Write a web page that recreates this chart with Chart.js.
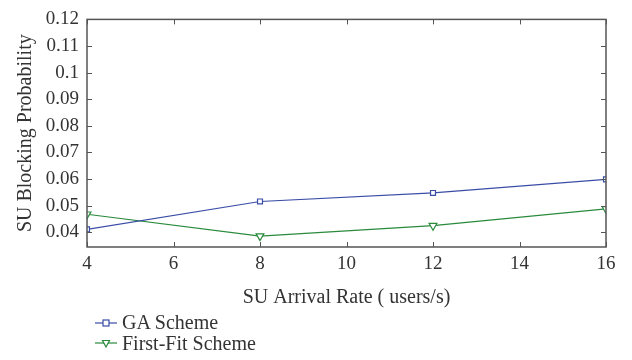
<!DOCTYPE html>
<html>
<head>
<meta charset="utf-8">
<script src="https://cdn.jsdelivr.net/npm/chart.js@4"></script>
<style>
  html, body { margin: 0; padding: 0; background: #fff; }
  #wrap { position: relative; width: 632px; height: 360px; }
  #legend { position: absolute; left: 95px; top: 312px; font-family: "Liberation Serif", serif; font-size: 20px; color: #333; }
  #legend div { height: 21px; line-height: 21px; display: flex; align-items: center; }
  #legend svg { margin-right: 5px; }
</style>
</head>
<body>
<div id="wrap">
  <canvas id="chart" width="632" height="360"></canvas>
  <div id="legend">
    <div><svg width="22" height="10"><line x1="0" y1="5" x2="22" y2="5" stroke="#3a4da6" stroke-width="1.2"/><rect x="8" y="2" width="6" height="6" fill="#fff" stroke="#3a4da6" stroke-width="1.2"/></svg>GA Scheme</div>
    <div><svg width="22" height="10"><line x1="0" y1="4" x2="22" y2="4" stroke="#2a8a3c" stroke-width="1.2"/><polygon points="7.5,1.5 14.5,1.5 11,8" fill="#fff" stroke="#2a8a3c" stroke-width="1.2"/></svg>First-Fit Scheme</div>
  </div>
</div>
<script>
const arrivalRates = [4, 8, 12, 16];
const gaScheme = [0.0411, 0.0516, 0.0548, 0.0599];
const firstFitScheme = [0.0468, 0.0386, 0.0425, 0.0488];
const yTicks = [0.04, 0.05, 0.06, 0.07, 0.08, 0.09, 0.1, 0.11, 0.12];

const FONT = "Liberation Serif";
const AXIS = "#555";

// box frame with inward ticks on all four sides
const frame = {
  id: "frame",
  afterDraw(chart) {
    const { ctx, chartArea: a, scales } = chart;
    ctx.save();
    ctx.strokeStyle = AXIS;
    ctx.lineWidth = 1.5;
    ctx.strokeRect(a.left, a.top, a.right - a.left, a.bottom - a.top);
    ctx.lineWidth = 1;
    ctx.beginPath();
    scales.x.ticks.forEach((t) => {
      const x = Math.round(scales.x.getPixelForValue(t.value)) + 0.5;
      ctx.moveTo(x, a.bottom); ctx.lineTo(x, a.bottom - 5);
      ctx.moveTo(x, a.top); ctx.lineTo(x, a.top + 5);
    });
    scales.y.ticks.forEach((t) => {
      const y = Math.round(scales.y.getPixelForValue(t.value)) + 0.5;
      ctx.moveTo(a.left, y); ctx.lineTo(a.left + 5, y);
      ctx.moveTo(a.right, y); ctx.lineTo(a.right - 5, y);
    });
    ctx.stroke();
    ctx.restore();
  },
};

new Chart(document.getElementById("chart"), {
  type: "line",
  data: {
    datasets: [
      {
        label: "GA Scheme",
        data: arrivalRates.map((x, i) => ({ x, y: gaScheme[i] })),
        borderColor: "#3a4da6",
        backgroundColor: "#fff",
        borderWidth: 1.2,
        pointStyle: "rect",
        pointRadius: 3.5,
        pointBorderWidth: 1.2,
        tension: 0,
      },
      {
        label: "First-Fit Scheme",
        data: arrivalRates.map((x, i) => ({ x, y: firstFitScheme[i] })),
        borderColor: "#2a8a3c",
        backgroundColor: "#fff",
        borderWidth: 1.2,
        pointStyle: "triangle",
        rotation: 180,
        pointRadius: 4.5,
        pointBorderWidth: 1.2,
        tension: 0,
      },
    ],
  },
  options: {
    responsive: false,
    animation: false,
    layout: { padding: { top: 11, right: 26, bottom: 46, left: 0 } },
    scales: {
      x: {
        type: "linear",
        min: 4,
        max: 16,
        ticks: { stepSize: 2, color: "#333", font: { family: FONT, size: 19 }, padding: 6 },
        grid: { display: false, drawTicks: false },
        border: { display: false },
        title: { display: true, text: "SU Arrival Rate ( users/s)", color: "#333", font: { family: FONT, size: 20 }, padding: { top: 8 } },
        afterFit(s) { s.height = 67; },
      },
      y: {
        min: 0.0345,
        max: 0.12,
        afterBuildTicks(s) { s.ticks = yTicks.map((v) => ({ value: v })); },
        ticks: {
          color: "#333",
          font: { family: FONT, size: 19 },
          padding: 8,
          callback: (v) => String(Number(v.toFixed(2))),
        },
        grid: { display: false, drawTicks: false },
        border: { display: false },
        title: { display: true, text: "SU Blocking Probability", color: "#333", font: { family: FONT, size: 20 }, padding: { top: 14, bottom: 0 } },
        afterFit(s) { s.width = 87; },
      },
    },
    plugins: { legend: { display: false }, tooltip: { enabled: false } },
  },
  plugins: [frame],
});
</script>
</body>
</html>
